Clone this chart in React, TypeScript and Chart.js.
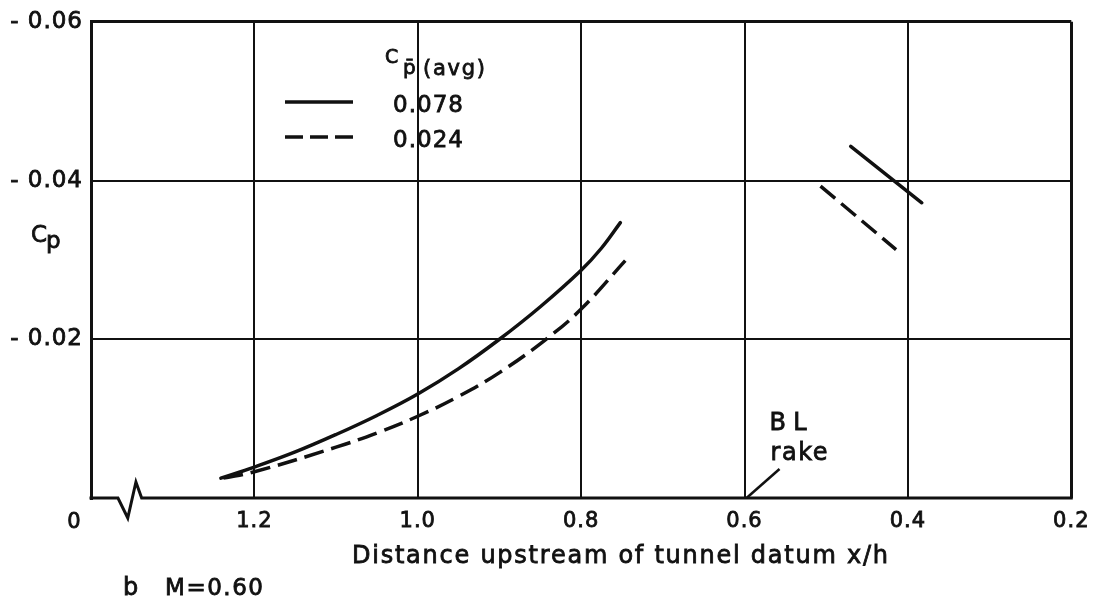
import React, { useEffect, useRef } from 'react';
import { Chart, registerables } from 'chart.js';

Chart.register(...registerables);

// ---- data ----
const X_TICKS = [1.4, 1.2, 1.0, 0.8, 0.6, 0.4, 0.2];
const Y_TICKS = [-0.06, -0.04, -0.02, 0];
const LEGEND_TITLE_MAIN = 'C';
const LEGEND_TITLE_SUB = 'p\u0304';
const LEGEND_TITLE_TAIL = '(avg)';
const SERIES_LABELS = ['0.078', '0.024'];

// C_p(avg) = 0.078 (solid)
const HIGH_X = [1.241, 1.2, 1.15, 1.1, 1.05, 1.0, 0.95, 0.9, 0.85, 0.8, 0.775, 0.752];
const HIGH_Y = [-0.0025, -0.0039, -0.0058, -0.008, -0.0104, -0.0131, -0.0163, -0.02, -0.0241, -0.0287, -0.0315, -0.0347];
const HIGH_RIGHT_X = [0.47, 0.383];
const HIGH_RIGHT_Y = [-0.0443, -0.0372];

// C_p(avg) = 0.024 (dashed)
const LOW_X = [1.238, 1.2, 1.1, 1.05, 1.0, 0.95, 0.9, 0.843, 0.8, 0.746];
const LOW_Y = [-0.0025, -0.0033, -0.0064, -0.0082, -0.0103, -0.0128, -0.0158, -0.02, -0.0238, -0.0299];
const LOW_RIGHT_X = [0.507, 0.4145];
const LOW_RIGHT_Y = [-0.0393, -0.0313];

const BREAK_X = [1.367, 1.355, 1.345, 1.338];
const BL_RAKE_X = 0.6;

const INK = '#111';
const FONT = '"DejaVu Sans"';
const STROKE = 0.8;

const pts = (xs: number[], ys: number[]) => xs.map((x, i) => ({ x, y: ys[i] }));

function drawText(ctx: CanvasRenderingContext2D, text: string, x: number, y: number, size: number, width?: number, align: CanvasTextAlign = 'left') {
  ctx.font = `${size}px ${FONT}`;
  ctx.letterSpacing = '0px';
  if (width && text.length > 1) {
    const w = ctx.measureText(text).width;
    const n = Array.from(text).length;
    ctx.letterSpacing = `${(width - w) / (n - 1)}px`;
  }
  ctx.textAlign = align;
  ctx.textBaseline = 'alphabetic';
  ctx.fillStyle = INK;
  ctx.strokeStyle = INK;
  ctx.lineWidth = STROKE;
  ctx.setLineDash([]);
  ctx.fillText(text, x, y);
  ctx.strokeText(text, x, y);
}

const overlay = {
  id: 'overlay',
  beforeDraw(chart: any) {
    chart.ctx.letterSpacing = '1px';
  },
  afterDraw(chart: any) {
    const { ctx, chartArea: a, scales } = chart;
    const xs = scales.x;
    const ys = scales.y;
    ctx.save();
    ctx.strokeStyle = INK;
    ctx.lineWidth = 3;
    ctx.lineJoin = 'miter';
    // bottom axis with break symbol
    const y0 = ys.getPixelForValue(0);
    ctx.beginPath();
    ctx.moveTo(a.left - 1.5, y0);
    ctx.lineTo(xs.getPixelForValue(BREAK_X[0]), y0);
    ctx.lineTo(xs.getPixelForValue(BREAK_X[1]), y0 + 20);
    ctx.lineTo(xs.getPixelForValue(BREAK_X[2]), y0 - 16);
    ctx.lineTo(xs.getPixelForValue(BREAK_X[3]), y0);
    ctx.lineTo(a.right + 1.5, y0);
    ctx.stroke();

    // BL rake leader
    const bx = xs.getPixelForValue(BL_RAKE_X);
    ctx.lineWidth = 2.5;
    ctx.beginPath();
    ctx.moveTo(bx + 2, y0);
    ctx.lineTo(bx + 35, y0 - 29);
    ctx.stroke();
    drawText(ctx, 'B L', bx + 25, 430, 24, 37);
    drawText(ctx, 'rake', bx + 26, 460, 24, 57);

    // legend
    ctx.lineWidth = 3.5;
    ctx.lineCap = 'butt';
    ctx.setLineDash([]);
    ctx.beginPath();
    ctx.moveTo(285, 102);
    ctx.lineTo(353, 102);
    ctx.stroke();
    ctx.setLineDash([18, 7]);
    ctx.beginPath();
    ctx.moveTo(285, 137);
    ctx.lineTo(353, 137);
    ctx.stroke();
    ctx.setLineDash([]);
    drawText(ctx, LEGEND_TITLE_MAIN, 385, 63, 19);
    drawText(ctx, LEGEND_TITLE_SUB, 403, 74, 20);
    drawText(ctx, LEGEND_TITLE_TAIL, 423, 75, 21, 62);
    drawText(ctx, SERIES_LABELS[0], 393, 112, 23, 70);
    drawText(ctx, SERIES_LABELS[1], 393, 147, 23, 70);

    // axis labels
    drawText(ctx, 'C', 31, 242, 23);
    drawText(ctx, 'p', 46, 248, 23);
    drawText(ctx, '0', 74, 528, 21, undefined, 'center');
    drawText(ctx, 'Distance upstream of tunnel datum x/h', 352, 563, 24, 536);
    drawText(ctx, 'b', 123, 595, 24);
    drawText(ctx, 'M=0.60', 165, 595, 23, 98);
    ctx.restore();
  },
};

export default function App() {
  const ref = useRef<HTMLCanvasElement>(null);
  useEffect(() => {
    if (!ref.current) return;
    const solid = { borderColor: INK, borderWidth: 3.5, pointRadius: 0, tension: 0.4, fill: false, borderCapStyle: 'round' as const };
    const dashed = { ...solid, borderDash: [20, 8], borderCapStyle: 'butt' as const };
    const chart = new Chart(ref.current, {
      type: 'line',
      data: {
        datasets: [
          { label: SERIES_LABELS[0], data: pts(HIGH_X, HIGH_Y), ...solid },
          { label: SERIES_LABELS[0] + ' ', data: pts(HIGH_RIGHT_X, HIGH_RIGHT_Y), ...solid },
          { label: SERIES_LABELS[1], data: pts(LOW_X, LOW_Y), ...dashed },
          { label: SERIES_LABELS[1] + ' ', data: pts(LOW_RIGHT_X, LOW_RIGHT_Y), ...dashed, borderDash: [19, 8] },
        ],
      },
      options: {
        animation: false,
        responsive: true,
        maintainAspectRatio: false,
        layout: { padding: { top: 15, right: 26, left: 0, bottom: 0 } },
        plugins: { legend: { display: false }, tooltip: { enabled: false } },
        scales: {
          x: {
            type: 'linear',
            reverse: true,
            min: 0.2,
            max: 1.4,
            afterBuildTicks: (s: any) => { s.ticks = X_TICKS.map((v) => ({ value: v })); },
            afterFit: (s: any) => { s.height = 105; },
            border: { display: false },
            grid: {
              drawTicks: false,
              color: (c: any) => (c.tick && Math.abs(c.tick.value - 1.4) < 1e-6 ? 'rgba(0,0,0,0)' : INK),
              lineWidth: (c: any) => (c.tick && Math.abs(c.tick.value - 0.2) < 1e-6 ? 3 : 2),
            },
            ticks: {
              color: INK,
              textStrokeColor: INK,
              textStrokeWidth: STROKE,
              font: { family: FONT, size: 21 },
              padding: 11,
              maxRotation: 0,
              autoSkip: false,
              callback: (v: any) => (Math.abs(v - 1.4) < 1e-6 ? '' : Number(v).toFixed(1)),
            },
          },
          y: {
            type: 'linear',
            reverse: true,
            min: -0.06,
            max: 0,
            afterBuildTicks: (s: any) => { s.ticks = Y_TICKS.map((v) => ({ value: v })); },
            afterFit: (s: any) => { s.width = 91; },
            border: { display: true, color: INK, width: 3 },
            grid: {
              drawTicks: false,
              color: (c: any) => (c.tick && Math.abs(c.tick.value) < 1e-9 ? 'rgba(0,0,0,0)' : INK),
              lineWidth: (c: any) => (c.tick && Math.abs(c.tick.value + 0.06) < 1e-9 ? 3 : 2),
            },
            ticks: {
              color: INK,
              textStrokeColor: INK,
              textStrokeWidth: STROKE,
              font: { family: FONT, size: 23 },
              padding: 8,
              callback: (v: any) => (Math.abs(v) < 1e-9 ? '' : '- ' + Math.abs(Number(v)).toFixed(2)),
            },
          },
        },
      },
      plugins: [overlay],
    });
    return () => chart.destroy();
  }, []);
  return (
    <div style={{ position: 'absolute', left: 0, top: 0, width: 1099, height: 603, background: '#fff' }}>
      <canvas ref={ref} />
    </div>
  );
}
